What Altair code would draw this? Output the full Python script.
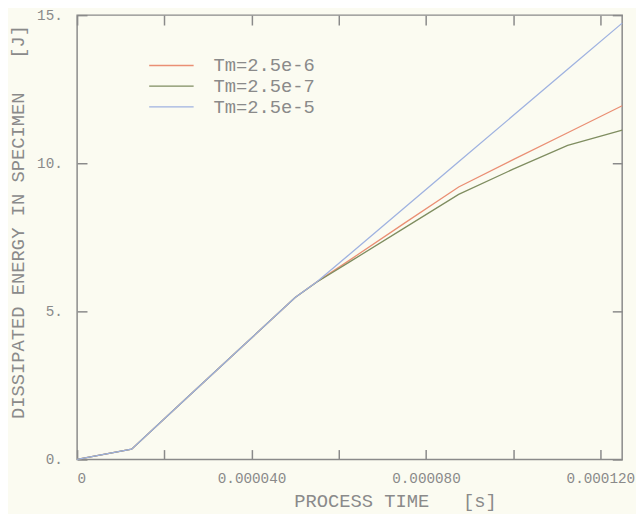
import altair as alt
import pandas as pd

# ---- data ----
time_s = [0, 1.25e-5, 2.5e-5, 3.75e-5, 5e-5, 5.5e-5, 6.25e-5, 7.5e-5, 8.75e-5, 1e-4, 1.125e-4, 1.25e-4]
energy_tm_2_5e6 = [0, 0.35, 2.06, 3.76, 5.47, 6.00, 6.73, 7.97, 9.20, 10.12, 11.03, 11.94]
energy_tm_2_5e7 = [0, 0.35, 2.06, 3.76, 5.47, 5.99, 6.67, 7.81, 8.95, 9.80, 10.60, 11.12]
energy_tm_2_5e5 = [0, 0.35, 2.06, 3.76, 5.47, 6.00, 6.93, 8.49, 10.05, 11.61, 13.17, 14.73]
series_names = ["Tm=2.5e-6", "Tm=2.5e-7", "Tm=2.5e-5"]
series_colors = ["#ea8f74", "#7f8d60", "#9fb2e0"]
x_ticks = [0, 2e-5, 4e-5, 6e-5, 8e-5, 1e-4, 1.2e-4]
y_ticks = [0, 5, 10, 15]

rows = []
for name, vals in zip(series_names, [energy_tm_2_5e6, energy_tm_2_5e7, energy_tm_2_5e5]):
    for t, e in zip(time_s, vals):
        rows.append({"time": t, "energy": e, "series": name})
df = pd.DataFrame(rows)

FONT = "Liberation Mono"
GRAY = "#8a8a8a"
BG = "#fbfbf1"
NB = "\u00a0"

x_scale = alt.Scale(domain=[0, 1.25e-4], nice=False, zero=False)
y_scale = alt.Scale(domain=[0, 15], nice=False)

x_label_expr = ("datum.value == 0 ? '0' : "
                "(round(datum.value / 0.00002) % 2 == 0 ? format(datum.value, '.6f') : '')")

lines = alt.Chart(df).mark_line(strokeWidth=1.3).encode(
    x=alt.X("time:Q", scale=x_scale,
            axis=alt.Axis(orient="bottom", values=x_ticks, labelExpr=x_label_expr,
                          title="PROCESS TIME" + NB * 3 + "[s]",
                          offset=-10, tickSize=10, domain=False, grid=False,
                          labelPadding=12, labelFontSize=14.5, labelFont=FONT, labelColor=GRAY,
                          tickColor=GRAY, tickWidth=1.5,
                          titleFont=FONT, titleFontSize=19, titleColor=GRAY,
                          titleFontWeight="normal",
                          titleX=322, titleY=52, titleBaseline="middle", titleAlign="center")),
    y=alt.Y("energy:Q", scale=y_scale,
            axis=alt.Axis(orient="left", values=y_ticks, labelExpr="datum.value + '.'",
                          title="DISSIPATED ENERGY IN SPECIMEN" + NB * 3 + "[J]",
                          offset=-10, tickSize=10, domain=False, grid=False,
                          labelPadding=15, labelFontSize=14.5, labelFont=FONT, labelColor=GRAY,
                          tickColor=GRAY, tickWidth=1.5,
                          titleFont=FONT, titleFontSize=19, titleColor=GRAY,
                          titleFontWeight="normal", titleAngle=270,
                          titleX=-70, titleY=209, titleBaseline="middle", titleAlign="center")),
    color=alt.Color("series:N",
                    scale=alt.Scale(domain=series_names, range=series_colors),
                    legend=alt.Legend(title=None, orient="none", legendX=86, legendY=41.5,
                                      symbolType="M-3,0H3", symbolSize=225,
                                      symbolStrokeWidth=1.3, labelFont=FONT,
                                      labelFontSize=19, labelColor=GRAY, labelOffset=33,
                                      rowPadding=1, padding=0)),
)

frame_ticks = alt.Chart(df).mark_point(opacity=0).encode(
    x=alt.X("time:Q", scale=x_scale,
            axis=alt.Axis(orient="top", values=x_ticks, labels=False, title=None,
                          offset=-10, tickSize=10, domain=False, grid=False,
                          tickColor=GRAY, tickWidth=1.5)),
    y=alt.Y("energy:Q", scale=y_scale,
            axis=alt.Axis(orient="right", values=y_ticks, labels=False, title=None,
                          offset=-10, tickSize=10, domain=False, grid=False,
                          tickColor=GRAY, tickWidth=1.5)),
)

chart = alt.layer(frame_ticks, lines).resolve_axis(
    x="independent", y="independent"
).properties(
    width=552, height=450,
    padding={"left": 70, "top": 4, "right": 14, "bottom": 52},
    autosize=alt.AutoSizeParams(type="none"),
    background=BG,
).configure_view(stroke=GRAY, strokeWidth=1.5)

chart.save("out.html", embed_options={"renderer": "svg", "actions": False})
